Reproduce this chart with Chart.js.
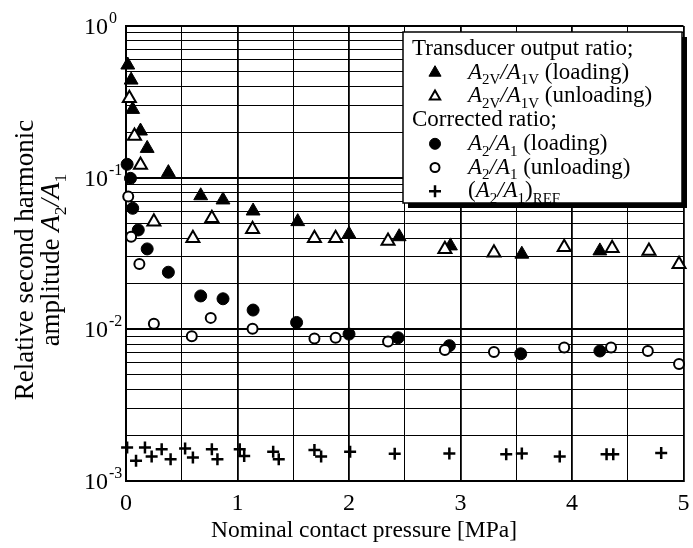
<!DOCTYPE html>
<html>
<head>
<meta charset="utf-8">
<script src="https://cdn.jsdelivr.net/npm/chart.js@4.4.0/dist/chart.umd.min.js"></script>
<style>
  html, body { margin: 0; padding: 0; background: #fff; }
  #wrap { width: 693px; height: 548px; }
</style>
</head>
<body>
<div id="wrap"><canvas id="harmonicChart" width="693" height="548"></canvas></div>
<script>
// Transducer output ratio A2V/A1V
const loadV_x = [0.016, 0.046, 0.06, 0.13, 0.19, 0.38, 0.67, 0.87, 1.14, 1.54, 2.0, 2.45, 2.91, 3.55, 4.25];
const loadV_y = [0.553, 0.44, 0.282, 0.203, 0.156, 0.108, 0.076, 0.0713, 0.0603, 0.0513, 0.0424, 0.0408, 0.0355, 0.0313, 0.0329];
const unloadV_x = [0.03, 0.076, 0.13, 0.25, 0.6, 0.77, 1.135, 1.69, 1.88, 2.35, 2.86, 3.3, 3.93, 4.36, 4.69, 4.96];
const unloadV_y = [0.334, 0.188, 0.121, 0.0513, 0.0398, 0.054, 0.0457, 0.0398, 0.0398, 0.0383, 0.0337, 0.032, 0.0348, 0.0342, 0.0329, 0.0269];

// Corrected ratio A2/A1
const load_x = [0.01, 0.04, 0.06, 0.11, 0.19, 0.38, 0.67, 0.87, 1.14, 1.53, 2.0, 2.44, 2.9, 3.54, 4.25];
const load_y = [0.1225, 0.099, 0.0628, 0.0452, 0.0339, 0.0238, 0.0166, 0.0159, 0.0134, 0.0111, 0.0093, 0.0088, 0.0078, 0.0069, 0.0072];
const unload_x = [0.02, 0.046, 0.12, 0.25, 0.59, 0.76, 1.135, 1.69, 1.88, 2.35, 2.86, 3.3, 3.93, 4.35, 4.68, 4.96];
const unload_y = [0.075, 0.0408, 0.027, 0.0109, 0.009, 0.0119, 0.0101, 0.0087, 0.0088, 0.0083, 0.0073, 0.0071, 0.0076, 0.0076, 0.0072, 0.0059];

// Reference (A2/A1)REF
const ref_x = [0.01, 0.09, 0.17, 0.23, 0.32, 0.40, 0.53, 0.60, 0.77, 0.82, 1.02, 1.06, 1.32, 1.37, 1.69, 1.75, 2.01, 2.41, 2.9, 3.41, 3.55, 3.89, 4.31, 4.37, 4.8];
const ref_y = [0.00166, 0.00136, 0.00166, 0.00145, 0.00162, 0.00139, 0.00164, 0.00143, 0.00162, 0.00139, 0.00162, 0.00146, 0.00156, 0.00139, 0.0016, 0.00145, 0.00156, 0.00151, 0.00152, 0.0015, 0.00152, 0.00145, 0.0015, 0.0015, 0.00153];

// axes
const xGrid = [0, 0.5, 1, 1.5, 2, 2.5, 3, 3.5, 4, 4.5, 5];
const xLabels = [0, 1, 2, 3, 4, 5];
const yExponents = [0, -1, -2, -3];
const yMinor = [1, 2, 3, 4, 5, 6, 7, 8, 9];

const FONT = '"Liberation Serif", "Times New Roman", serif';

function pts(xs, ys) {
    return xs.map((x, i) => ({ x: x, y: ys[i] }));
}

function isDecade(v) {
    const l = Math.log10(v);
    return Math.abs(l - Math.round(l)) < 1e-9;
}

// text with italic / subscript / superscript runs
function richWidth(ctx, parts, size) {
    let w = 0;
    parts.forEach(p => {
        const s = p[1] === 'sub' || p[1] === 'sup' ? size * 0.65 : size;
        ctx.font = (p[1] === 'i' ? 'italic ' : '') + s + 'px ' + FONT;
        w += ctx.measureText(p[0]).width;
    });
    return w;
}

function drawRich(ctx, parts, x, y, size) {
    ctx.textAlign = 'left';
    ctx.textBaseline = 'alphabetic';
    parts.forEach(p => {
        let s = size, dy = 0;
        if (p[1] === 'sub') { s = size * 0.65; dy = size * 0.25; }
        if (p[1] === 'sup') { s = size * 0.65; dy = -size * 0.42; }
        ctx.font = (p[1] === 'i' ? 'italic ' : '') + s + 'px ' + FONT;
        ctx.fillText(p[0], x, y + dy);
        x += ctx.measureText(p[0]).width;
    });
}

const legendRows = [
    { marker: null, parts: [['Transducer output ratio;', '']] },
    { marker: { pointStyle: 'triangle', radius: 7, fill: '#000', bw: 1 },
      parts: [['A', 'i'], ['2V', 'sub'], ['/', 'i'], ['A', 'i'], ['1V', 'sub'], [' (loading)', '']] },
    { marker: { pointStyle: 'triangle', radius: 6, fill: '#fff', bw: 2 },
      parts: [['A', 'i'], ['2V', 'sub'], ['/', 'i'], ['A', 'i'], ['1V', 'sub'], [' (unloading)', '']] },
    { marker: null, parts: [['Corrected ratio;', '']] },
    { marker: { pointStyle: 'circle', radius: 5.5, fill: '#000', bw: 1 },
      parts: [['A', 'i'], ['2', 'sub'], ['/', 'i'], ['A', 'i'], ['1', 'sub'], [' (loading)', '']] },
    { marker: { pointStyle: 'circle', radius: 4.5, fill: '#fff', bw: 2 },
      parts: [['A', 'i'], ['2', 'sub'], ['/', 'i'], ['A', 'i'], ['1', 'sub'], [' (unloading)', '']] },
    { marker: { pointStyle: 'cross', radius: 6, fill: '#000', bw: 2.5 },
      parts: [['(', ''], ['A', 'i'], ['2', 'sub'], ['/', 'i'], ['A', 'i'], ['1', 'sub'], [')', ''], ['REF', 'sub']] }
];

const labelsPlugin = {
    id: 'paperLabels',
    afterDraw(chart) {
        const ctx = chart.ctx;
        const xs = chart.scales.x, ys = chart.scales.y;
        ctx.save();
        ctx.fillStyle = '#000';

        // x tick labels
        ctx.font = '24px ' + FONT;
        ctx.textAlign = 'center';
        ctx.textBaseline = 'alphabetic';
        xLabels.forEach(v => ctx.fillText(String(v), xs.getPixelForValue(v), 510));

        // y tick labels 10^n
        yExponents.forEach(e => {
            const py = ys.getPixelForValue(Math.pow(10, e));
            ctx.font = '24px ' + FONT;
            ctx.textAlign = 'right';
            ctx.fillText('10', 108, py + 8);
            ctx.font = '16px ' + FONT;
            ctx.textAlign = 'left';
            ctx.fillText(e === 0 ? '0' : '-' + Math.abs(e), 109, py - 3);
        });

        // x title
        ctx.font = '23.5px ' + FONT;
        ctx.textAlign = 'center';
        ctx.fillText('Nominal contact pressure [MPa]', 364, 537);

        // y title, two rotated lines
        ctx.save();
        ctx.translate(0, 260);
        ctx.rotate(-Math.PI / 2);
        const line1 = [['Relative second harmonic', '']];
        const line2 = [['amplitude ', ''], ['A', 'i'], ['2', 'sub'], ['/', 'i'], ['A', 'i'], ['1', 'sub']];
        drawRich(ctx, line1, -richWidth(ctx, line1, 27) / 2, 33, 27);
        drawRich(ctx, line2, -richWidth(ctx, line2, 27) / 2, 59, 27);
        ctx.restore();

        // legend box with drop shadow
        const bx = 403, by = 32, bw = 279, bh = 171;
        ctx.fillStyle = '#000';
        ctx.fillRect(bx + 5, by + 5, bw, bh);
        ctx.fillStyle = '#fff';
        ctx.fillRect(bx, by, bw, bh);
        ctx.strokeStyle = '#000';
        ctx.lineWidth = 1.5;
        ctx.strokeRect(bx, by, bw, bh);

        ctx.save();
        ctx.beginPath();
        ctx.rect(bx, by, bw, bh);
        ctx.clip();
        ctx.fillStyle = '#000';
        legendRows.forEach((row, i) => {
            const base = 55 + i * 23.7;
            if (row.marker) {
                const m = row.marker;
                ctx.fillStyle = m.fill;
                ctx.strokeStyle = '#000';
                ctx.lineWidth = m.bw;
                Chart.helpers.drawPoint(ctx, { pointStyle: m.pointStyle, radius: m.radius, rotation: 0, borderWidth: m.bw }, 435, base - 6);
                ctx.fillStyle = '#000';
                drawRich(ctx, row.parts, 468, base, 23);
            } else {
                drawRich(ctx, row.parts, 412, base, 23);
            }
        });
        ctx.restore();

        ctx.restore();
    }
};

function markerSet(label, data, style, radius, fill, bw) {
    return {
        label: label,
        data: data,
        pointStyle: style,
        pointRadius: radius,
        pointBackgroundColor: fill,
        pointBorderColor: '#000',
        pointBorderWidth: bw,
        showLine: false,
        clip: false
    };
}

new Chart(document.getElementById('harmonicChart'), {
    type: 'scatter',
    data: {
        datasets: [
            markerSet('(A2/A1)REF', pts(ref_x, ref_y), 'cross', 6, '#000', 2.5),
            markerSet('A2/A1 (unloading)', pts(unload_x, unload_y), 'circle', 5, '#fff', 2),
            markerSet('A2/A1 (loading)', pts(load_x, load_y), 'circle', 6, '#000', 1),
            markerSet('A2V/A1V (unloading)', pts(unloadV_x, unloadV_y), 'triangle', 7.5, '#fff', 2),
            markerSet('A2V/A1V (loading)', pts(loadV_x, loadV_y), 'triangle', 8, '#000', 1)
        ]
    },
    options: {
        responsive: false,
        animation: false,
        layout: { padding: { left: 126, top: 26, right: 2, bottom: 67 } },
        plugins: {
            legend: { display: false },
            tooltip: { enabled: false }
        },
        scales: {
            x: {
                type: 'linear',
                min: 0,
                max: 5,
                afterBuildTicks: s => { s.ticks = xGrid.map(v => ({ value: v })); },
                ticks: { display: false },
                grid: {
                    color: '#000',
                    lineWidth: c => Number.isInteger(c.tick.value) ? 1.8 : 1,
                    drawTicks: false
                },
                border: { display: true, color: '#000', width: 2 }
            },
            y: {
                type: 'logarithmic',
                min: 0.001,
                max: 1,
                afterBuildTicks: s => {
                    const t = [];
                    [-3, -2, -1].forEach(e => yMinor.forEach(m => t.push({ value: m * Math.pow(10, e) })));
                    t.push({ value: 1 });
                    s.ticks = t;
                },
                ticks: { display: false },
                grid: {
                    color: '#000',
                    lineWidth: c => isDecade(c.tick.value) ? 2 : 1,
                    drawTicks: false
                },
                border: { display: true, color: '#000', width: 2 }
            }
        }
    },
    plugins: [labelsPlugin]
});
</script>
</body>
</html>
